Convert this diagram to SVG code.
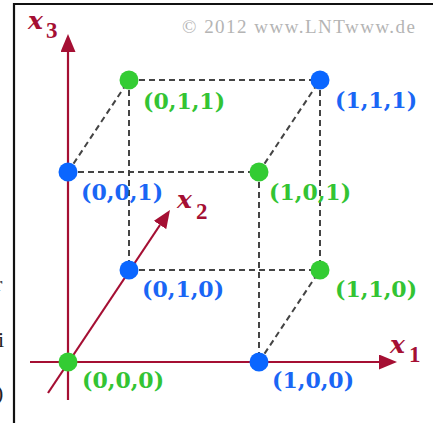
<svg xmlns="http://www.w3.org/2000/svg" width="433" height="423" viewBox="0 0 433 423">
  <style>
    .edge { stroke: #444; stroke-width: 2; stroke-dasharray: 6 4; fill: none; }
    .axis { stroke: #a50f33; stroke-width: 2.2; fill: none; }
    .g { fill: #33cc33; }
    .b { fill: #0a66ff; }
    .lbl { font-family: "DejaVu Serif", "Liberation Serif", serif; font-weight: bold; font-size: 22px; }
    .lg { fill: #33c433; }
    .lb { fill: #1a66f5; }
    .ax { font-family: "DejaVu Serif", "Liberation Serif", serif; font-weight: bold; font-style: italic; font-size: 25px; fill: #a50f33; }
    .sub { font-family: "Liberation Serif", "DejaVu Serif", serif; font-weight: bold; font-size: 23px; fill: #a50f33; }
    .copy { font-family: "Liberation Serif", "DejaVu Serif", serif; font-size: 19px; fill: #b4b4b4; }
    .frag { font-family: "Liberation Serif", serif; font-size: 22px; fill: #222; }
  </style>
  <defs>
    <marker id="arrow" markerUnits="userSpaceOnUse" markerWidth="20" markerHeight="16" refX="0" refY="7.5" orient="auto">
      <path d="M0,0 L18,7.5 L0,15 z" fill="#a50f33"/>
    </marker>
  </defs>

  <rect width="433" height="423" fill="#fff"/>

  <g id="frame">
    <path d="M14,423 L14,4 L433,4" fill="none" stroke="#111" stroke-width="2.2"/>
  </g>

  <g id="margin-fragments">
    <text class="frag" x="-5" y="291">r</text>
    <text class="frag" x="-2" y="347">i</text>
    <text class="frag" x="-4" y="400">)</text>
  </g>

  <text class="copy" x="182" y="33" textLength="233" lengthAdjust="spacing">© 2012 www.LNTwww.de</text>

  <g id="connectors">
    <line class="edge" x1="129" y1="80" x2="320" y2="80"/>
    <line class="edge" x1="68" y1="172" x2="259" y2="172"/>
    <line class="edge" x1="129" y1="270" x2="320" y2="270"/>
    <line class="edge" x1="129" y1="80" x2="129" y2="270"/>
    <line class="edge" x1="320" y1="80" x2="320" y2="270"/>
    <line class="edge" x1="259" y1="172" x2="259" y2="362"/>
    <line class="edge" x1="68" y1="172" x2="129" y2="80"/>
    <line class="edge" x1="259" y1="172" x2="320" y2="80"/>
    <line class="edge" x1="259" y1="362" x2="320" y2="270"/>
    <line class="axis" x1="68" y1="400" x2="68" y2="52" marker-end="url(#arrow)"/>
    <line class="axis" x1="30" y1="362" x2="379" y2="362" marker-end="url(#arrow)"/>
    <line class="axis" x1="48" y1="393" x2="160" y2="225" marker-end="url(#arrow)"/>
  </g>

  <g id="axis-x3">
    <text class="ax" x="28" y="29">x</text><text class="sub" x="46" y="38">3</text>
  </g>
  <g id="axis-x2">
    <text class="ax" x="177" y="208">x</text><text class="sub" x="196" y="219">2</text>
  </g>
  <g id="axis-x1">
    <text class="ax" x="390" y="353">x</text><text class="sub" x="409" y="362">1</text>
  </g>

  <g id="n000"><circle class="g" cx="68" cy="362" r="9.5"/><text class="lbl lg" x="82" y="388">(0,0,0)</text></g>
  <g id="n100"><circle class="b" cx="259" cy="362" r="9.5"/><text class="lbl lb" x="272" y="388">(1,0,0)</text></g>
  <g id="n010"><circle class="b" cx="129" cy="270" r="9.5"/><text class="lbl lb" x="142" y="297">(0,1,0)</text></g>
  <g id="n110"><circle class="g" cx="320" cy="270" r="9.5"/><text class="lbl lg" x="335" y="297">(1,1,0)</text></g>
  <g id="n001"><circle class="b" cx="68" cy="172" r="9.5"/><text class="lbl lb" x="81" y="200">(0,0,1)</text></g>
  <g id="n101"><circle class="g" cx="259" cy="172" r="9.5"/><text class="lbl lg" x="269" y="200">(1,0,1)</text></g>
  <g id="n011"><circle class="g" cx="129" cy="80" r="9.5"/><text class="lbl lg" x="143" y="109">(0,1,1)</text></g>
  <g id="n111"><circle class="b" cx="320" cy="80" r="9.5"/><text class="lbl lb" x="335" y="108">(1,1,1)</text></g>
</svg>
